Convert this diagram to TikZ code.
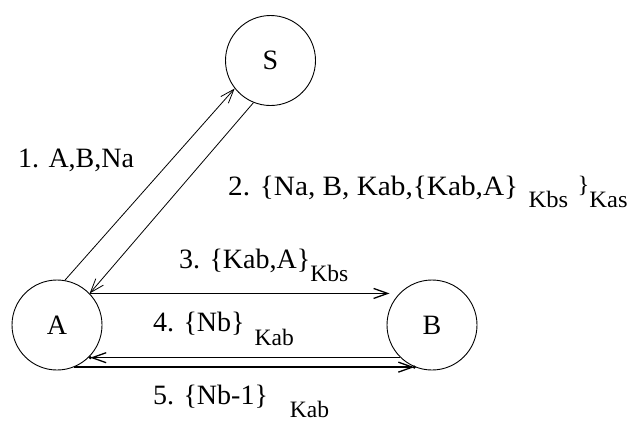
\documentclass[tikz,border=0pt]{standalone}
\usepackage{fontspec}
\usepackage{graphicx}
\setmainfont{Liberation Serif}
\usetikzlibrary{arrows.meta}
\newcommand{\mainsz}{\fontsize{28}{30}\selectfont}
\newcommand{\subsz}{\fontsize{23.5}{25}\selectfont}
\newcommand{\lowr}[2]{\raisebox{-#1pt}{\subsz #2}}
\begin{document}
\begin{tikzpicture}[x=1pt,y=-1pt,
  state/.style={circle,draw,line width=0.9pt,minimum size=90pt,inner sep=0pt,font=\mainsz},
  thin arr/.style={line width=0.8pt,-{Straight Barb[length=14pt,width=10pt]}},
  thick arr/.style={line width=1.3pt,-{Straight Barb[length=14pt,width=10pt]}},
  dot/.style={circle,fill,inner sep=0pt,minimum size=3.5pt},
  lbl/.style={anchor=base west,inner sep=0pt,font=\mainsz}]
\useasboundingbox (0,0) rectangle (631,421);
\node[state] (S) at (270.5,60.5) {S};
\node[state] (A) at (57,325) {A};
\node[state] (B) at (432,325) {B};
% connectors
\draw[thin arr] (A.80) -- (S.218);
\draw[thin arr] (S.248) -- (A.44);
\draw[thick arr] (A.44) -- ([xshift=3pt]A.44 -| B.west);
\draw[thick arr] (B.226) -- (B.226 -| A.317) node[dot] {};
\draw[thick arr] (A.292) -- (A.292 -| B.247) node[dot] {};
% labels
\node[lbl] (l1) at (18,167) {1. A,B,Na};
\node[lbl] (l2) at (228,195) {\scalebox{1.045}[1]{2. \{Na, B, Kab,\{Kab,A\}\hspace{10pt}\lowr{12}{Kbs}\hspace{9pt}\raisebox{3pt}{\subsz\}}\lowr{12}{Kas}}};
\node[lbl] (l3) at (179,268) {3. \{Kab,A\}\lowr{13}{Kbs}};
\node[lbl] (l4) at (153,331) {4. \{Nb\}\hspace{10pt}\lowr{14}{Kab}};
\node[lbl] (l5) at (153,404) {5. \{Nb-1\}\hspace{22pt}\lowr{13}{Kab}};
\end{tikzpicture}
\end{document}
